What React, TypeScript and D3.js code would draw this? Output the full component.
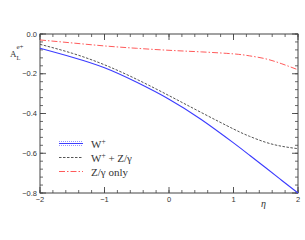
import React from "react";
import * as d3 from "d3";

const etaValues = [-2, -1.5, -1, -0.5, 0, 0.5, 1, 1.25, 1.5, 1.75, 2];
const wPlus = [-0.072, -0.117, -0.17, -0.243, -0.328, -0.43, -0.548, -0.61, -0.673, -0.737, -0.8];
const wPlusZ = [-0.052, -0.097, -0.155, -0.228, -0.31, -0.395, -0.478, -0.515, -0.545, -0.565, -0.577];
const zOnly = [-0.03, -0.045, -0.06, -0.072, -0.082, -0.09, -0.1, -0.11, -0.125, -0.15, -0.18];

const xTicks = [-2, -1, 0, 1, 2];
const yTicks = [0, -0.2, -0.4, -0.6, -0.8];
const yTickLabels = ["0.0", "\u22120.2", "\u22120.4", "\u22120.6", "\u22120.8"];
const xTickLabels = ["\u22122", "\u22121", "0", "1", "2"];
const legendLabels = ["W", "W", "Z/\u03b3 only"];

export default function App() {
  const W = 305, H = 240;
  const L = 40, R = 298, T = 34, B = 193;
  const x = d3.scaleLinear().domain([-2, 2]).range([L, R]);
  const y = d3.scaleLinear().domain([-0.8, 0]).range([B, T]);
  const xMinor = d3.range(-2, 2.0001, 0.2);
  const yMinor = d3.range(-0.8, 0.0001, 0.04);
  const line = (vals: number[]) =>
    d3.line<number>().x((_, i) => x(etaValues[i])).y((v) => y(v)).curve(d3.curveNatural)(vals) || "";
  const axisColor = "#444";
  const tickFont = "Liberation Sans, Arial, sans-serif";
  const serif = "Liberation Serif, Times New Roman, serif";
  const blue = "#3b3bff";
  const lightBlue = "#7a7aff";
  const red = "#ff5a5a";
  const lx0 = 59, lx1 = 83;
  const ly = [143.5, 157.5, 171.5];
  return (
    <svg width={W} height={H} style={{ position: "absolute", left: 0, top: 0, background: "#fff" }}>
      {xMinor.map((t, i) => (
        <g key={"xm" + i}>
          <line x1={x(t)} x2={x(t)} y1={B} y2={B - 3} stroke={axisColor} strokeWidth={0.8} />
          <line x1={x(t)} x2={x(t)} y1={T} y2={T + 3} stroke={axisColor} strokeWidth={0.8} />
        </g>
      ))}
      {yMinor.map((t, i) => (
        <g key={"ym" + i}>
          <line x1={L} x2={L + 3} y1={y(t)} y2={y(t)} stroke={axisColor} strokeWidth={0.8} />
          <line x1={R} x2={R - 3} y1={y(t)} y2={y(t)} stroke={axisColor} strokeWidth={0.8} />
        </g>
      ))}
      {xTicks.map((t, i) => (
        <g key={"xt" + i}>
          <line x1={x(t)} x2={x(t)} y1={B} y2={B - 6} stroke={axisColor} strokeWidth={0.9} />
          <line x1={x(t)} x2={x(t)} y1={T} y2={T + 6} stroke={axisColor} strokeWidth={0.9} />
          <text x={x(t)} y={B + 9} fontSize={7.5} fontFamily={tickFont} textAnchor="middle" fill="#333">
            {xTickLabels[i]}
          </text>
        </g>
      ))}
      {yTicks.map((t, i) => (
        <g key={"yt" + i}>
          <line x1={L} x2={L + 6} y1={y(t)} y2={y(t)} stroke={axisColor} strokeWidth={0.9} />
          <line x1={R} x2={R - 6} y1={y(t)} y2={y(t)} stroke={axisColor} strokeWidth={0.9} />
          <text x={L - 3} y={y(t) + 2.5} fontSize={7.5} fontFamily={tickFont} textAnchor="end" fill="#333">
            {yTickLabels[i]}
          </text>
        </g>
      ))}
      <rect x={L} y={T} width={R - L} height={B - T} fill="none" stroke={axisColor} strokeWidth={1} />

      <path d={line(zOnly)} fill="none" stroke={red} strokeWidth={1} strokeDasharray="6 2 1.5 2" />
      <path d={line(wPlusZ)} fill="none" stroke="#555" strokeWidth={1} strokeDasharray="2.5 1.5" />
      <path d={line(wPlus)} fill="none" stroke={blue} strokeWidth={1.1} />

      <line x1={lx0} x2={lx1} y1={ly[0] - 2} y2={ly[0] - 2} stroke={lightBlue} strokeWidth={0.8} strokeDasharray="1 1" />
      <line x1={lx0} x2={lx1} y1={ly[0]} y2={ly[0]} stroke={blue} strokeWidth={1} />
      <line x1={lx0} x2={lx1} y1={ly[0] + 2} y2={ly[0] + 2} stroke={lightBlue} strokeWidth={0.8} strokeDasharray="1 1" />
      <line x1={lx0} x2={lx1} y1={ly[1]} y2={ly[1]} stroke="#555" strokeWidth={1} strokeDasharray="2.5 1.5" />
      <line x1={lx0} x2={lx1} y1={ly[2]} y2={ly[2]} stroke={red} strokeWidth={1} strokeDasharray="6 2 1.5 2" />
      <text x={91} y={ly[0] + 4} fontSize={11} fontFamily={serif} fill="#333">
        {legendLabels[0]}<tspan dy={-4} fontSize={7.5}>+</tspan>
      </text>
      <text x={91} y={ly[1] + 4} fontSize={11} fontFamily={serif} fill="#333">
        {legendLabels[1]}<tspan dy={-4} fontSize={7.5}>+</tspan><tspan dy={4}>{" + Z/\u03b3"}</tspan>
      </text>
      <text x={91} y={ly[2] + 4} fontSize={11} fontFamily={serif} fill="#333">
        {legendLabels[2]}
      </text>

      <text x={10} y={57} fontSize={9} fontFamily={serif} fill="#333">
        A
      </text>
      <text x={16.5} y={48.5} fontSize={7} fontFamily={serif} fill="#333">
        e+
      </text>
      <text x={16.5} y={59.5} fontSize={6.5} fontFamily={serif} fill="#333">
        L
      </text>
      <text x={261} y={207} fontSize={10} fontFamily={serif} fontStyle="italic" fill="#333">
        {"\u03b7"}
      </text>
    </svg>
  );
}
